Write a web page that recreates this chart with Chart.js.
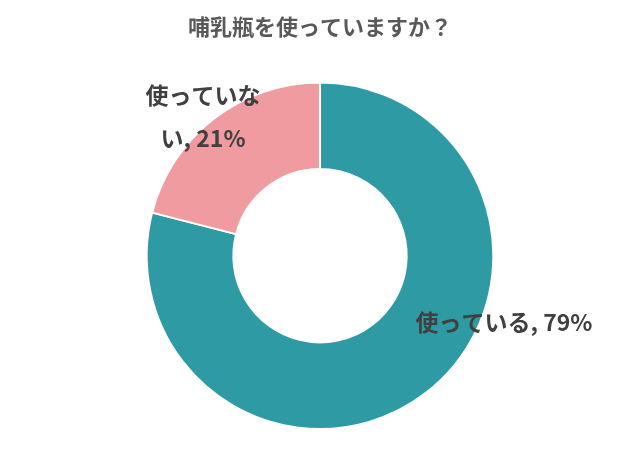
<!DOCTYPE html>
<html>
<head>
<meta charset="utf-8">
<script src="https://cdn.jsdelivr.net/npm/chart.js@4"></script>
<style>
  html, body { margin: 0; padding: 0; background: #fff; }
  #wrap { width: 640px; height: 465px; }
</style>
</head>
<body>
<div id="wrap"><canvas id="pieChart"></canvas></div>
<script>
// chart data
var categories = ['使っている', '使っていない'];
var percents   = [79, 21];
var sliceColors = ['#2E9AA4', '#EF9BA0'];

// label placement per slice: angle (deg, clockwise from 3 o'clock) and distance (x outer radius)
var labelSpots = [
    { angle: 20,   dist: 1.13, lines: null },
    { angle: -130, dist: 1.05, lines: 2 }
];

var FONT = '"Noto Sans CJK JP", "Noto Sans", sans-serif';

var sliceLabels = {
    id: 'sliceLabels',
    afterDatasetsDraw: function (chart) {
        var ctx = chart.ctx;
        var meta = chart.getDatasetMeta(0);
        ctx.save();
        ctx.font = 'bold 23px ' + FONT;
        ctx.fillStyle = '#404040';
        ctx.textAlign = 'center';
        ctx.textBaseline = 'middle';
        meta.data.forEach(function (arc, i) {
            var p = arc.getProps(['x', 'y', 'outerRadius'], true);
            var spot = labelSpots[i];
            var a = spot.angle * Math.PI / 180;
            var cx = p.x + Math.cos(a) * p.outerRadius * spot.dist;
            var cy = p.y + Math.sin(a) * p.outerRadius * spot.dist;
            var text = categories[i] + ', ' + percents[i] + '%';
            var lines = [text];
            if (spot.lines == 2) {
                lines = [categories[i].slice(0, 5), categories[i].slice(5) + ', ' + percents[i] + '%'];
            }
            var lh = 43;
            var y0 = cy - (lines.length - 1) * lh / 2;
            lines.forEach(function (t, k) {
                ctx.fillText(t, cx, y0 + k * lh);
            });
        });
        ctx.restore();
    }
};

var ctxP = document.getElementById('pieChart').getContext('2d');
var myChart = new Chart(ctxP, {
    type: 'doughnut',
    data: {
        labels: categories,
        datasets: [{
            data: percents,
            backgroundColor: sliceColors,
            borderColor: '#ffffff',
            borderWidth: 2
        }]
    },
    options: {
        responsive: true,
        maintainAspectRatio: false,
        animation: false,
        cutout: '50%',
        layout: { padding: { top: 0, bottom: 35, left: 0, right: 0 } },
        plugins: {
            legend: { display: false },
            tooltip: { enabled: false },
            title: {
                display: true,
                text: '哺乳瓶を使っていますか？',
                color: '#595959',
                font: { family: FONT, size: 22, weight: 'bold' },
                padding: { top: 13, bottom: 42 }
            }
        }
    },
    plugins: [sliceLabels]
});
</script>
</body>
</html>
